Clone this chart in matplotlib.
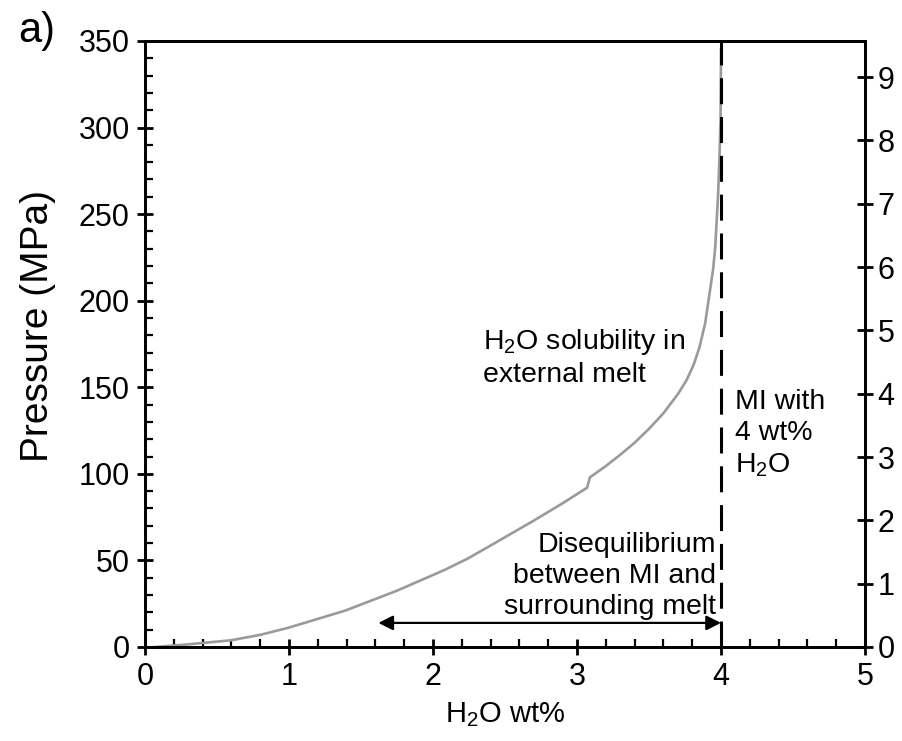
import matplotlib
matplotlib.use("Agg")
import matplotlib.pyplot as plt
from matplotlib.ticker import MultipleLocator

plt.rcParams['font.family'] = ['Liberation Sans', 'DejaVu Sans']
plt.rcParams['mathtext.fontset'] = 'custom'
plt.rcParams['mathtext.rm'] = 'Liberation Sans'
plt.rcParams['mathtext.it'] = 'Liberation Sans:italic'
plt.rcParams['mathtext.bf'] = 'Liberation Sans:bold'

# data
water_wt = [0.07, 0.30, 0.60, 0.80, 1.00, 1.39, 1.75, 2.08, 2.24, 2.45, 2.70,
            2.90, 3.07, 3.09, 3.20, 3.30, 3.40, 3.50, 3.60, 3.70, 3.76, 3.81,
            3.85, 3.89, 3.92, 3.945, 3.96, 3.98, 3.99, 3.997, 4.00]
pressure_mpa = [0, 1.5, 3.9, 7.0, 11.2, 21, 32.5, 44.5, 51, 61, 73,
                83, 92, 98, 104.5, 111, 118, 126, 135, 146, 154, 163,
                173, 187, 204, 218, 231, 262, 285, 305, 345]
mi_water = 4.0
arrow_left = 1.62
arrow_p = 13.9
right_max = 9.57

fig = plt.figure(figsize=(9.02, 7.41), dpi=100)
ax = fig.add_axes([0.1608, 0.1269, 0.7982, 0.8178])

ax.plot(water_wt, pressure_mpa, color='#9a9a9a', lw=1.9, zorder=2)
ax.plot([mi_water, mi_water], [0, 350], color='black', lw=2.2,
        dashes=(8.5, 4.2), zorder=3)
ax.annotate('', xy=(arrow_left, arrow_p), xytext=(mi_water, arrow_p),
            arrowprops=dict(arrowstyle='<|-|>', color='black', lw=1.6,
                            mutation_scale=22, shrinkA=0, shrinkB=0))

ax.set_xlim(0, 5)
ax.set_ylim(0, 350)
ax.xaxis.set_major_locator(MultipleLocator(1))
ax.xaxis.set_minor_locator(MultipleLocator(0.2))
ax.yaxis.set_major_locator(MultipleLocator(50))
ax.yaxis.set_minor_locator(MultipleLocator(10))
ax.tick_params(which='major', direction='inout', length=12, width=2,
               labelsize=22, pad=5, top=False, right=False)
ax.tick_params(which='minor', direction='in', length=6, width=1.6,
               top=False, right=False)
for s in ax.spines.values():
    s.set_linewidth(2)

ax2 = ax.twinx()
ax2.set_ylim(0, right_max)
ax2.yaxis.set_major_locator(MultipleLocator(1))
ax2.tick_params(which='major', direction='inout', length=12, width=2,
                labelsize=22, pad=3)
for s in ax2.spines.values():
    s.set_linewidth(2)

ax.set_xlabel('H$_2$O wt%', fontsize=21, labelpad=6)
ax.set_ylabel('Pressure (MPa)', fontsize=28)
ax.yaxis.set_label_coords(-0.123, 0.53)

ax.text(2.35, 167, 'H$_2$O solubility in\nexternal melt', fontsize=20.5,
        ha='left', va='center', linespacing=1.25)
ax.text(4.095, 123, 'MI with\n4 wt%\nH$_2$O', fontsize=20.5,
        ha='left', va='center', linespacing=1.25)
ax.text(3.965, 41, 'Disequilibrium\nbetween MI and\nsurrounding melt',
        fontsize=20.5, ha='right', va='center', linespacing=1.25)

fig.text(0.02, 0.958, 'a)', fontsize=30, ha='left', va='center')

fig.savefig('out.png', dpi=100)
